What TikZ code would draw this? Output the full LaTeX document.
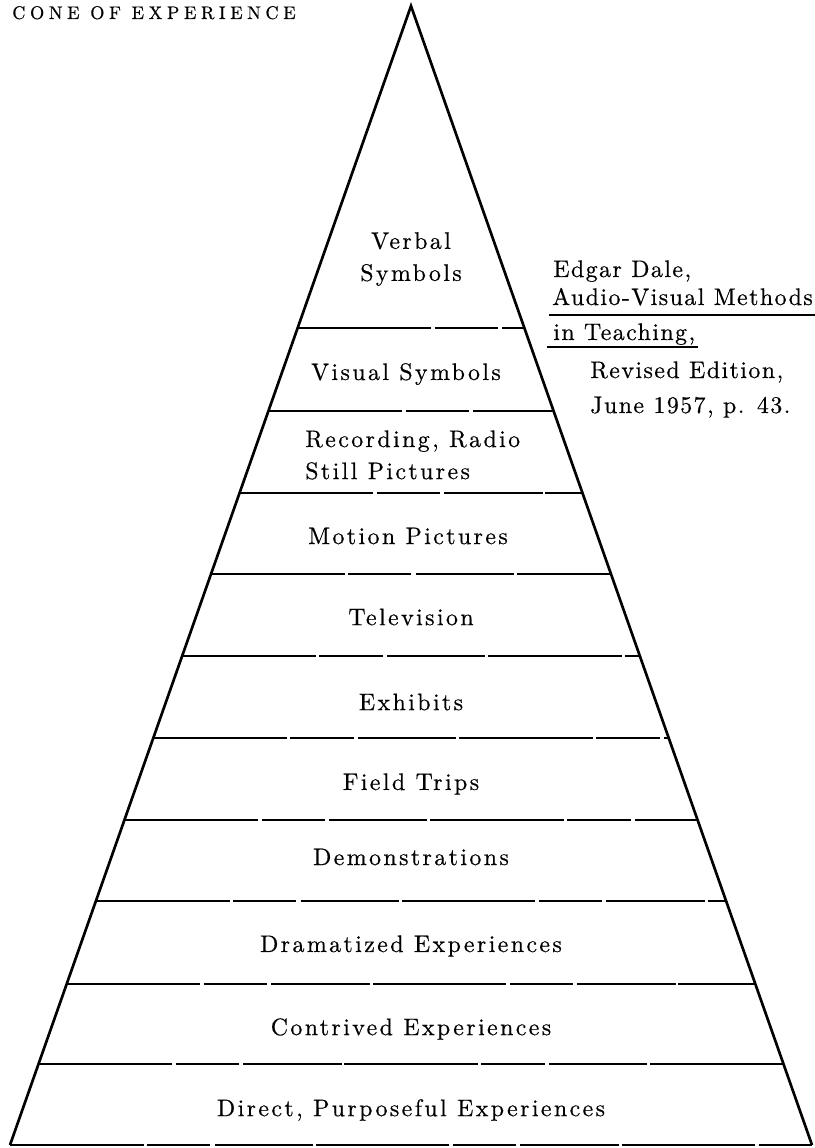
\documentclass[tikz,border=0pt]{standalone}
\usepackage{fontspec}
\usepackage{tikz}
\usetikzlibrary{calc}
\usetikzlibrary{positioning}
\newfontfamily\conefont{lmroman10-regular.otf}[LetterSpace=10, FakeBold=0.5]
\newfontfamily\notefont{lmroman10-regular.otf}[LetterSpace=6, FakeBold=0.5]
\newfontfamily\conetitle{lmroman10-regular.otf}[LetterSpace=25, FakeBold=0.5]
\tikzset{edge/.style = {-, line width = 1.9pt, line join = miter}}
\tikzset{tierline/.style = {-, line width = 1.1pt, dash pattern = on 95pt off 2.5pt on 45pt off 3pt on 70pt off 2pt}}
\tikzset{tier/.style = {draw = none, inner sep = 0, align = center, font = \conefont\fontsize{17}{22.8}\selectfont}}
\tikzset{note/.style = {draw = none, inner sep = 0, anchor = base west, font = \notefont\fontsize{17}{22.8}\selectfont}}
\tikzset{uline/.style = {-, line width = 1.1pt}}

\begin{document}
\begin{tikzpicture}[x = 0.025cm, y = -0.025cm]
\useasboundingbox (0, 0) rectangle (814, 1148);

% the cone
\coordinate (apex) at (411, 6);
\coordinate (bl) at (10, 1145);
\coordinate (br) at (812, 1145);
\draw [edge] (bl) -- (apex) -- (br);
\draw [tierline] (bl) -- (br);
\foreach \yy in {328, 411, 493, 574, 656, 738, 820, 901, 984, 1064} {
  \pgfmathsetmacro{\lev}{(\yy - 6) / 1139}
  \draw [tierline] ($(apex)!\lev!(bl)$) -- ($(apex)!\lev!(br)$);
}

% title
\node [draw = none, inner sep = 0, anchor = base west, font = \conetitle\fontsize{13}{15}\selectfont] (title) at (12, 19) {CONE OF EXPERIENCE};

% tiers, top to bottom
\node [tier] (verbal) at (411, 259) {Verbal\\Symbols};
\node [tier] (visual) at (406, 374) {Visual Symbols};
\node [tier, align = left, anchor = west] (recording) at (305, 455) {Recording, Radio\\Still Pictures};
\node [tier] (motion) at (408, 536) {Motion Pictures};
\node [tier] (tv) at (411, 617) {Television};
\node [tier] (exhibits) at (411, 702) {Exhibits};
\node [tier] (field) at (411, 784) {Field Trips};
\node [tier] (demo) at (411, 857) {Demonstrations};
\node [tier] (drama) at (411, 946) {Dramatized Experiences};
\node [tier] (contrived) at (411, 1029) {Contrived Experiences};
\node [tier] (direct) at (411, 1110) {Direct, Purposeful Experiences};

% source
\node [note] (dale) at (553, 277) {Edgar Dale,};
\node [note] (methods) at (552, 305) {Audio-Visual Methods};
\node [note] (teaching) at (553, 340) {in Teaching,};
\node [note] (revised) at (590, 378) {Revised Edition,};
\node [note] (june) at (590, 413) {June 1957, p. 43.};
\draw [uline] ($(methods.base west) + (-3, 10)$) -- ($(methods.base east) + (3, 10)$);
\draw [uline] ($(teaching.base west) + (-6, 7)$) -- ($(teaching.base east) + (3, 7)$);
\end{tikzpicture}
\end{document}
